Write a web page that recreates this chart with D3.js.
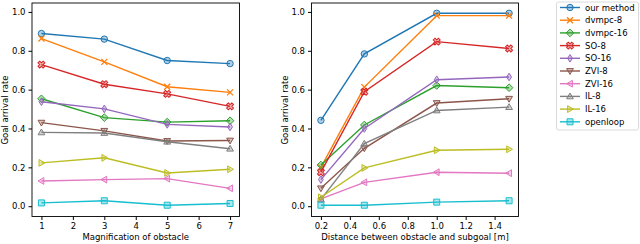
<!DOCTYPE html>
<html>
<head>
<meta charset="utf-8">
<title>goal arrival</title>
<script src="https://cdn.jsdelivr.net/npm/d3@7"></script>
<style>
  body { margin: 0; background: #fff; }
  text { font-family: "DejaVu Sans", sans-serif; fill: #000; }
</style>
</head>
<body>
<script>
// data
const methods = ["our method", "dvmpc-8", "dvmpc-16", "SO-8", "SO-16", "ZVI-8", "ZVI-16", "IL-8", "IL-16", "openloop"];
const colors = ["#1f77b4", "#ff7f0e", "#2ca02c", "#d62728", "#9467bd", "#8c564b", "#e377c2", "#7f7f7f", "#bcbd22", "#17becf"];
const markers = ["o", "x", "D", "X", "d", "v", "<", "^", ">", "s"];

const magnification = [1, 3, 5, 7];
const magValues = [
  [0.889, 0.860, 0.750, 0.734],
  [0.863, 0.743, 0.615, 0.586],
  [0.553, 0.456, 0.433, 0.440],
  [0.729, 0.628, 0.578, 0.514],
  [0.538, 0.501, 0.421, 0.408],
  [0.430, 0.388, 0.336, 0.338],
  [0.130, 0.137, 0.142, 0.092],
  [0.380, 0.377, 0.332, 0.296],
  [0.223, 0.249, 0.171, 0.190],
  [0.017, 0.028, 0.005, 0.014]
];

const distance = [0.2, 0.5, 1.0, 1.5];
const distValues = [
  [0.442, 0.784, 0.993, 0.993],
  [0.200, 0.613, 0.981, 0.981],
  [0.212, 0.418, 0.621, 0.610],
  [0.175, 0.589, 0.847, 0.812],
  [0.137, 0.400, 0.651, 0.665],
  [0.092, 0.298, 0.531, 0.553],
  [0.038, 0.123, 0.175, 0.170],
  [0.035, 0.322, 0.493, 0.510],
  [0.046, 0.197, 0.288, 0.293],
  [0.005, 0.005, 0.021, 0.028]
];

const yTicks = [0.0, 0.2, 0.4, 0.6, 0.8, 1.0];
const magTicks = [1, 2, 3, 4, 5, 6, 7];
const distTicks = [0.2, 0.4, 0.6, 0.8, 1.0, 1.2, 1.4];

const W = 640, H = 244;
const svg = d3.select("body").append("svg").attr("width", W).attr("height", H);

function markerPath(m) {
  const r = 3.2;
  switch (m) {
    case "o": return d3.symbol(d3.symbolCircle, Math.PI * r * r)();
    case "s": return "M-3,-3H3V3H-3Z";
    case "D": return "M0,-3.8L3.8,0L0,3.8L-3.8,0Z";
    case "d": return "M0,-3.8L2.4,0L0,3.8L-2.4,0Z";
    case "v": return "M-3.4,-2.4L3.4,-2.4L0,3.4Z";
    case "^": return "M-3.4,2.4L3.4,2.4L0,-3.4Z";
    case "<": return "M2.4,-3.4L2.4,3.4L-3.4,0Z";
    case ">": return "M-2.4,-3.4L-2.4,3.4L3.4,0Z";
    case "X": return d3.symbol(d3.symbolCross, 30)();
    default: return "M-3,-3L3,3M-3,3L3,-3";
  }
}

function drawMarker(g, m, color, x, y) {
  const p = g.append("path")
    .attr("d", markerPath(m))
    .attr("transform", "translate(" + x + "," + y + ")" + (m === "X" ? " rotate(45)" : ""))
    .attr("stroke", color)
    .attr("stroke-width", 1);
  if (m === "x") p.attr("fill", "none").attr("stroke-width", 1.3);
  else p.attr("fill", color).attr("fill-opacity", 0.35);
}

function panel(opt) {
  const x = d3.scaleLinear().domain(opt.xDomain).range([opt.left, opt.right]);
  const y = d3.scaleLinear().domain([-0.053, 1.046]).range([216.5, 3]);

  svg.append("g")
    .attr("transform", "translate(0,216.5)")
    .call(d3.axisBottom(x).tickValues(opt.ticks).tickSize(3.5).tickPadding(3)
      .tickFormat(opt.fmt))
    .call(g => g.select(".domain").remove())
    .call(g => g.selectAll("text").attr("font-size", 8.5).attr("font-family", "DejaVu Sans"));

  svg.append("g")
    .attr("transform", "translate(" + opt.left + ",0)")
    .call(d3.axisLeft(y).tickValues(yTicks).tickSize(3.5).tickPadding(3)
      .tickFormat(d3.format(".1f")))
    .call(g => g.select(".domain").remove())
    .call(g => g.selectAll("text").attr("font-size", 8.5).attr("font-family", "DejaVu Sans"));

  const plot = svg.append("g");
  const line = d3.line().x((d, i) => x(opt.xs[i])).y(d => y(d));
  opt.values.forEach((vals, k) => {
    plot.append("path")
      .attr("d", line(vals))
      .attr("fill", "none")
      .attr("stroke", colors[k])
      .attr("stroke-width", 1.4);
    vals.forEach((v, i) => drawMarker(plot, markers[k], colors[k], x(opt.xs[i]), y(v)));
  });

  svg.append("rect")
    .attr("x", opt.left).attr("y", 3)
    .attr("width", opt.right - opt.left).attr("height", 213.5)
    .attr("fill", "none").attr("stroke", "#000").attr("stroke-width", 0.9);

  svg.append("text")
    .attr("x", (opt.left + opt.right) / 2).attr("y", 240)
    .attr("text-anchor", "middle").attr("font-size", 8.5)
    .text(opt.xlabel);

  svg.append("text")
    .attr("transform", "translate(" + (opt.left - 24) + ",110) rotate(-90)")
    .attr("text-anchor", "middle").attr("font-size", 8.5)
    .text("Goal arrival rate");
}

panel({
  xDomain: [0.7, 7.3], left: 32, right: 239.5,
  ticks: magTicks, fmt: d3.format("d"),
  xs: magnification, values: magValues,
  xlabel: "Magnification of obstacle"
});

panel({
  xDomain: [0.135, 1.565], left: 311.5, right: 518.5,
  ticks: distTicks, fmt: d3.format(".1f"),
  xs: distance, values: distValues,
  xlabel: "Distance between obstacle and subgoal [m]"
});

// legend
const leg = svg.append("g");
leg.append("rect")
  .attr("x", 556.5).attr("y", 2).attr("width", 82).attr("height", 128)
  .attr("rx", 2).attr("fill", "#fff").attr("stroke", "#d0d0d0").attr("stroke-width", 0.8);
methods.forEach((name, k) => {
  const yy = 7.5 + k * 12.7;
  leg.append("line")
    .attr("x1", 560).attr("x2", 580).attr("y1", yy).attr("y2", yy)
    .attr("stroke", colors[k]).attr("stroke-width", 1.4);
  drawMarker(leg, markers[k], colors[k], 570, yy);
  leg.append("text")
    .attr("x", 585).attr("y", yy + 3)
    .attr("font-size", 8.5)
    .text(name);
});
</script>
</body>
</html>
